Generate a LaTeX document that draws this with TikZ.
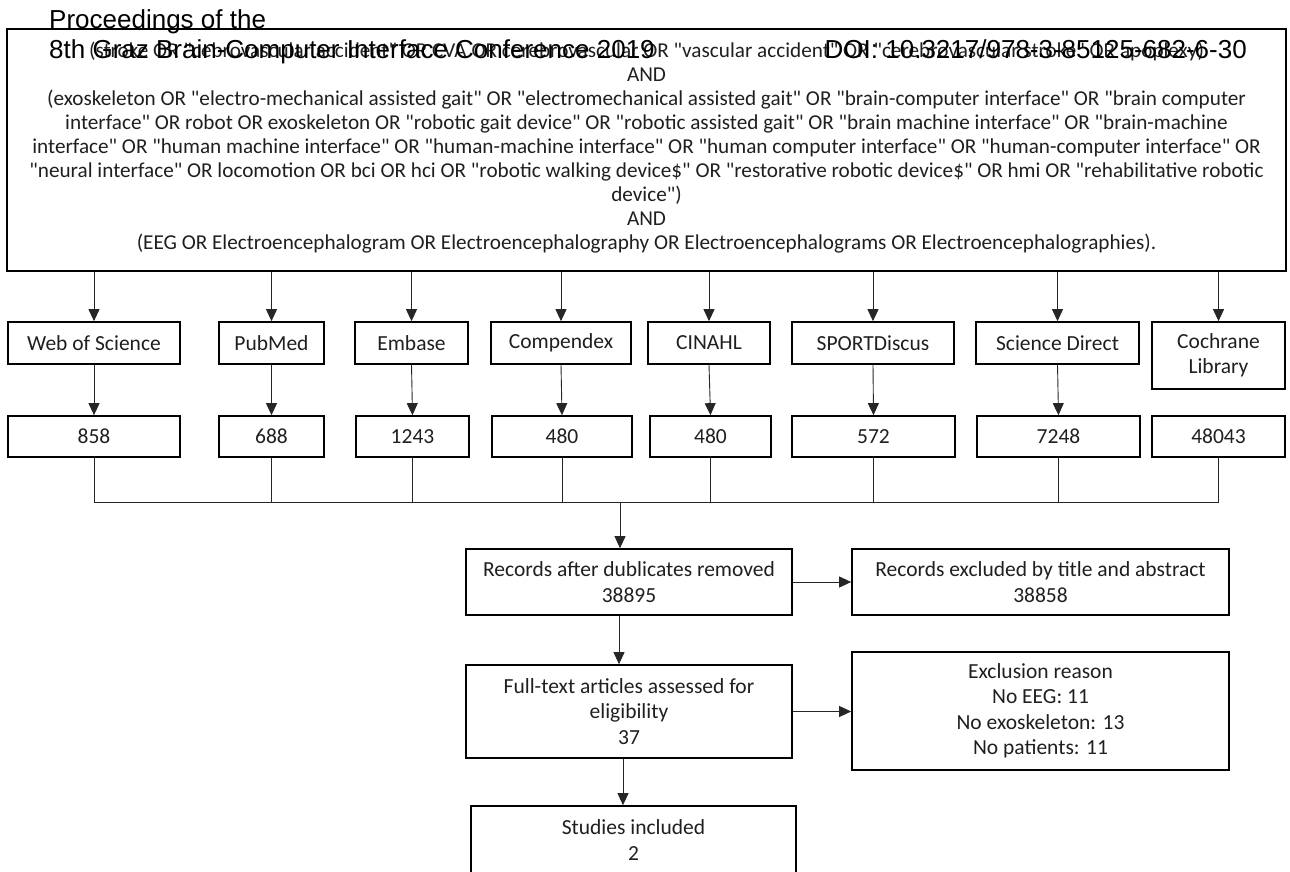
\documentclass[tikz,border=0pt]{standalone}
\usepackage{fontspec}
\setmainfont{Carlito}
\newfontfamily\hdrfont{Liberation Sans}
\usetikzlibrary{arrows.meta}
\newcommand{\qd}{\textquotedbl}
\begin{document}
\begin{tikzpicture}[x=1pt,y=-1pt,
  box/.style={draw=black, line width=1.7pt, align=center, inner sep=0pt, text=black!88,
    font=\fontsize{21.5}{25.5}\selectfont},
  conn/.style={line width=0.9pt, draw=black!85},
  arr/.style={conn, -{Triangle[width=11pt,length=12pt]}},
  hdr/.style={inner sep=0pt, font=\hdrfont\fontsize{26}{30}\selectfont}]
\useasboundingbox (0,0) rectangle (1290,872);
\clip (0,0) rectangle (1290,872);
% query box
\node[draw=black, line width=1.7pt, minimum width=1279pt, minimum height=242pt, inner sep=0pt] (q) at (646.5,150) {};
\node[align=center, inner sep=0pt, text=black!88, font=\fontsize{21.2}{24}\selectfont] (qt) at (646.5,148)
{(stroke OR \qd cebrovascular accident\qd{} OR CVA OR cerebrovascular OR \qd vascular accident\qd{} OR \qd cerebrovascular stroke\qd{} OR apoplexy)\\
AND\\
(exoskeleton OR \qd electro-mechanical assisted gait\qd{} OR \qd electromechanical assisted gait\qd{} OR \qd brain-computer interface\qd{} OR \qd brain computer\\
interface\qd{} OR robot OR exoskeleton OR \qd robotic gait device\qd{} OR \qd robotic assisted gait\qd{} OR \qd brain machine interface\qd{} OR \qd brain-machine\\
interface\qd{} OR \qd human machine interface\qd{} OR \qd human-machine interface\qd{} OR \qd human computer interface\qd{} OR \qd human-computer interface\qd{} OR\\
\qd neural interface\qd{} OR locomotion OR bci OR hci OR \qd robotic walking device\$\qd{} OR \qd restorative robotic device\$\qd{} OR hmi OR \qd rehabilitative robotic\\
device\qd)\\
AND\\
(EEG OR Electroencephalogram OR Electroencephalography OR Electroencephalograms OR Electroencephalographies).};
% header overlay
\node[hdr, anchor=base west] (h1) at (49,29) {Proceedings of the};
\node[hdr, anchor=base west] (h2) at (49,59) {8th Graz Brain-Computer Interface Conference 2019};
\node[hdr, anchor=base east] (h3) at (1247,59) {DOI: 10.3217/978-3-85125-682-6-30};
% sources
\node[box, minimum width=172pt, minimum height=42pt] (wos) at (94,343) {Web of Science};
\node[box, minimum width=105pt, minimum height=42pt] (pub) at (271.5,343) {PubMed};
\node[box, minimum width=113pt, minimum height=42pt] (emb) at (411.5,343) {Embase};
\node[box, minimum width=140pt, minimum height=42pt] (com) at (561,343) {Compendex};
\node[box, minimum width=122pt, minimum height=42pt] (cin) at (709,343) {CINAHL};
\node[box, minimum width=162pt, minimum height=42pt] (spo) at (873,343) {SPORTDiscus};
\node[box, minimum width=163pt, minimum height=42pt] (sci) at (1057.5,343) {Science Direct};
\node[box, minimum width=133pt, minimum height=67pt] (coc) at (1218.5,355.5) {Cochrane\\Library};
% counts
\node[box, minimum width=172pt, minimum height=41pt] (n1) at (94,436.5) {858};
\node[box, minimum width=105pt, minimum height=41pt] (n2) at (271.5,436.5) {688};
\node[box, minimum width=113pt, minimum height=41pt] (n3) at (412.5,436.5) {1243};
\node[box, minimum width=140pt, minimum height=41pt] (n4) at (562,436.5) {480};
\node[box, minimum width=121pt, minimum height=41pt] (n5) at (710.5,436.5) {480};
\node[box, minimum width=163pt, minimum height=41pt] (n6) at (873.5,436.5) {572};
\node[box, minimum width=163pt, minimum height=41pt] (n7) at (1058.5,436.5) {7248};
\node[box, minimum width=133pt, minimum height=41pt] (n8) at (1218.5,436.5) {48043};
% flow boxes
\node[box, minimum width=326pt, minimum height=66pt] (rec) at (629,582) {Records after dublicates removed\\38895};
\node[box, minimum width=377pt, minimum height=66pt] (exc) at (1040.5,582) {Records excluded by title and abstract\\38858};
\node[box, minimum width=326pt, minimum height=93pt] (full) at (629,711.5) {Full-text articles assessed for\\eligibility\\37};
\node[box, minimum width=377pt, minimum height=118pt] (why) at (1040.5,711) {Exclusion reason\\No EEG: 11\\No exoskeleton: 13\\No patients: 11};
\node[box, minimum width=325pt, minimum height=80pt] (inc) at (633.5,846) {};
\node[align=center, inner sep=0pt, text=black!88, font=\fontsize{21.5}{25.5}\selectfont] (inct) at (633.5,840) {Studies included\\2};
% arrows query -> sources
\foreach \s in {wos,pub,emb,com,cin,spo,sci,coc}{
  \draw[arr] (q.south -| \s.north) -- (\s.north);
}
% sources -> counts
\draw[arr] (wos.south) -- (n1.north);
\draw[arr] (pub.south) -- (n2.north);
\draw[arr] (emb.south) -- (n3.north);
\draw[arr] (com.south) -- (n4.north);
\draw[arr] (cin.south) -- (n5.north);
\draw[arr] (spo.south) -- (n6.north);
\draw[arr] (sci.south) -- (n7.north);
% bus
\coordinate (bus) at (620,502);
\draw[conn] (n1.south) -- (n1.south |- bus) -- (n8.south |- bus) -- (n8.south);
\foreach \n in {n2,n3,n4,n5,n6,n7}{
  \draw[conn] (\n.south) -- (\n.south |- bus);
}
\draw[arr] (bus) -- (bus |- rec.north);
\draw[arr] (rec.east) -- (exc.west);
\draw[arr] ([xshift=-10pt]rec.south) -- ([xshift=-10pt]full.north);
\draw[arr] (full.east) -- (full.east -| why.west);
\draw[arr] ([xshift=-6pt]full.south) -- ([xshift=-10.5pt]inc.north);
\end{tikzpicture}
\end{document}
